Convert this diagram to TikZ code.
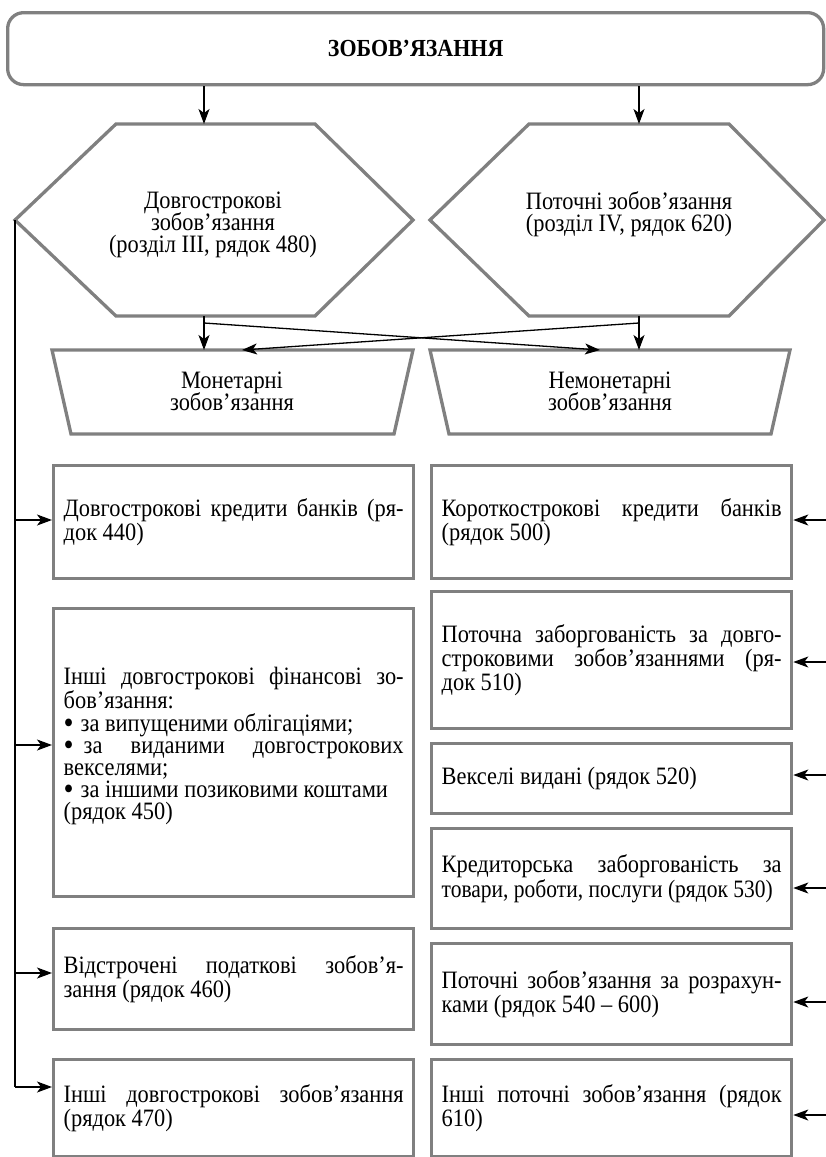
\documentclass[tikz,border=0pt]{standalone}
\usepackage{fontspec}
\usepackage{graphicx}
\setmainfont{Liberation Serif}[FakeStretch=0.896]
\usetikzlibrary{arrows.meta}
\definecolor{bord}{RGB}{128,128,128}
\newcommand\jline[1]{\hbox to 340pt{#1}}
\newcommand\nline[1]{\mbox{#1}}
\newcommand\bul{\raisebox{-2pt}{\fontsize{32}{22}\selectfont •}}
\lineskiplimit=-20pt
\begin{document}
\begin{tikzpicture}[x=1pt,y=-1pt,
  txtfont/.style={font=\fontsize{25}{22.2}\selectfont},
  boxst/.style={draw=bord, line width=3.3pt, rectangle, minimum width=360pt,
    inner xsep=10pt, inner ysep=0pt, text width=340pt, align=justify,
    anchor=north west, txtfont},
  shapest/.style={draw=bord, line width=3.3pt, line join=miter},
  lbl/.style={align=center, txtfont, inner sep=0pt},
  ln/.style={line width=1.3pt, black},
  arr/.style={ln, -{Stealth[length=15pt,width=11pt,inset=4pt]}}]
\useasboundingbox (0,0) rectangle (826,1157);

% title
\node[draw=bord, line width=3.3pt, rounded corners=16pt, minimum width=816pt,
  minimum height=72pt, anchor=north west, inner sep=0pt,
  font=\bfseries\fontsize{24.5}{24}\selectfont] (top) at (6,11) {ЗОБОВ’ЯЗАННЯ};

% hexagons
\coordinate (hLw) at (15,220);
\coordinate (hRw) at (430,220);
\draw[shapest] (hLw) -- (116,124) -- (315,124) -- (413,220) -- (315,316) -- (116,316) -- cycle;
\draw[shapest] (hRw) -- (529,124) -- (729,124) -- (824,220) -- (729,316) -- (529,316) -- cycle;
\node[lbl] (hLt) at (213,225) {Довгострокові\\зобов’язання\\(розділ III, рядок 480)};
\node[lbl] (hRt) at (629,214) {Поточні зобов’язання\\(розділ IV, рядок 620)};

\coordinate (hLtop) at (204,124);
\coordinate (hRtop) at (639,124);
\draw[arr] (top.south -| hLtop) -- (hLtop);
\draw[arr] (top.south -| hRtop) -- (hRtop);

% trapezoids
\draw[shapest] (52,350) -- (413,350) -- (394,434) -- (71,434) -- cycle;
\draw[shapest] (430,350) -- (790,350) -- (771,434) -- (449,434) -- cycle;
\node[lbl] (tL) at (232,391) {Монетарні\\зобов’язання};
\node[lbl] (tR) at (610,391) {Немонетарні\\зобов’язання};

\coordinate (hLbot) at (204,316);
\coordinate (hRbot) at (639,316);
\coordinate (xL) at (204,323);
\coordinate (xR) at (639,323);
\coordinate (tLtop) at (204,350);
\coordinate (tRtop) at (639,350);
\coordinate (tLx) at (242,350);
\coordinate (tRx) at (600,350);
\draw[arr] (hLbot) -- (tLtop);
\draw[arr] (hRbot) -- (tRtop);
\draw[arr] (xL) -- (tRx);
\draw[arr] (xR) -- (tLx);

% left boxes
\node[boxst, minimum height=113pt] (L1) at (52,464)
  {\jline{Довгострокові кредити банків (ря-}\\\nline{док 440)}};
\node[boxst, minimum height=288pt] (L2) at (52,607)
  {\jline{Інші довгострокові фінансові зо-}\\
   \nline{бов’язання:}\\
   \nline{\bul\hspace{7pt}за випущеними облігаціями;}\\
   \jline{\bul\hspace{10pt}за виданими довгострокових}\\
   \nline{векселями;}\\
   \nline{\bul\hspace{7pt}за іншими позиковими коштами}\\
   \nline{(рядок 450)}\\[-4pt]\rule{0pt}{12pt}};
\node[boxst, minimum height=101pt] (L3) at (52,927)
  {\jline{Відстрочені податкові зобов’я-}\\\nline{зання (рядок 460)}};
\node[boxst, minimum height=97pt] (L4) at (52,1058)
  {\jline{Інші довгострокові зобов’язання}\\\nline{(рядок 470)}};

% right boxes
\node[boxst, minimum height=113pt] (R1) at (430,464)
  {\jline{Короткострокові кредити банків}\\\nline{(рядок 500)}};
\node[boxst, minimum height=137pt] (R2) at (430,590)
  {\jline{Поточна заборгованість за довго-}\\
   \jline{строковими зобов’язаннями (ря-}\\\nline{док 510)}};
\node[boxst, minimum height=70pt] (R3) at (430,742)
  {\nline{Векселі видані (рядок 520)}};
\node[boxst, minimum height=100pt] (R4) at (430,827)
  {\jline{Кредиторська заборгованість за}\\\nline{\scalebox{0.96}[1]{товари, роботи, послуги (рядок 530)}}};
\node[boxst, minimum height=101pt] (R5) at (430,942)
  {\jline{Поточні зобов’язання за розрахун-}\\\nline{ками (рядок 540 – 600)}};
\node[boxst, minimum height=97pt] (R6) at (430,1058)
  {\jline{Інші поточні зобов’язання (рядок}\\\nline{610)}};

% left bus
\coordinate (bL1) at (15,520);
\coordinate (bL2) at (15,745);
\coordinate (bL3) at (15,973);
\coordinate (bL4) at (15,1087);
\draw[ln] (hLw) -- (bL4);
\draw[arr] (bL1) -- (bL1 -| L1.west);
\draw[arr] (bL2) -- (bL2 -| L2.west);
\draw[arr] (bL3) -- (bL3 -| L3.west);
\draw[arr] (bL4) -- (bL4 -| L4.west);

% right feeds
\coordinate (bR1) at (826,520);
\coordinate (bR2) at (826,662);
\coordinate (bR3) at (826,775);
\coordinate (bR4) at (826,888);
\coordinate (bR5) at (826,1002);
\coordinate (bR6) at (826,1115);
\draw[arr] (bR1) -- (bR1 -| R1.east);
\draw[arr] (bR2) -- (bR2 -| R2.east);
\draw[arr] (bR3) -- (bR3 -| R3.east);
\draw[arr] (bR4) -- (bR4 -| R4.east);
\draw[arr] (bR5) -- (bR5 -| R5.east);
\draw[arr] (bR6) -- (bR6 -| R6.east);
\end{tikzpicture}
\end{document}
